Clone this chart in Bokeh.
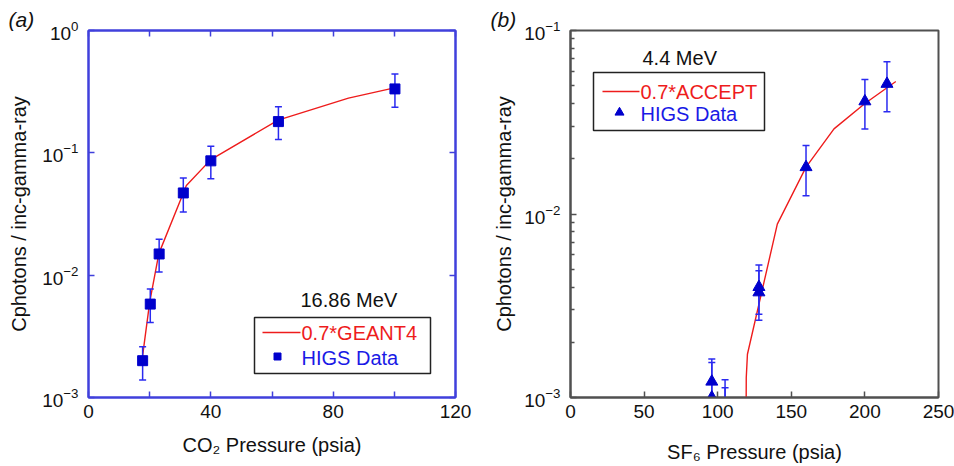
import math
from bokeh.plotting import figure
from bokeh.layouts import row
from bokeh.models import (FixedTicker, LinearAxis, LogAxis, Label, BoxAnnotation, Range1d,
                          Title, LogTickFormatter)
from bokeh.embed import file_html
from bokeh.resources import INLINE

FONT = "Liberation Sans"

# ---------------- data: panel (a) CO2, 16.86 MeV ----------------
a_press = [17.7, 20.2, 23.1, 31.0, 40.0, 62.1, 100.2]
a_val = [0.0020, 0.0058, 0.0149, 0.047, 0.086, 0.180, 0.333]
a_err_hi = [0.0026, 0.0077, 0.0197, 0.0624, 0.113, 0.238, 0.44]
a_err_lo = [0.00139, 0.0041, 0.0106, 0.0329, 0.0613, 0.1285, 0.236]
a_sim_press = [17.7, 20.0, 23.0, 32.0, 40.0, 62.0, 85.0, 100.0]
a_sim_val = [0.0022, 0.0060, 0.0150, 0.054, 0.088, 0.185, 0.28, 0.34]
a_xticks = [0, 40, 80, 120]
a_xminor = [20, 60, 100]
a_yticks = [1e-3, 1e-2, 1e-1, 1.0]

# ---------------- data: panel (b) SF6, 4.4 MeV ----------------
b_press = [96, 96, 105, 105, 128, 128, 160, 200, 215]
b_val = [0.00122, 0.0010, 0.0007, 0.00065, 0.0040, 0.00374, 0.0180, 0.0411, 0.0512]
b_err_hi = [0.00162, 0.00155, 0.00125, 0.00113, 0.00527, 0.00491, 0.0236, 0.0541, 0.0675]
b_err_lo = [0.0007, 0.0006, 0.0004, 0.0004, 0.00284, 0.00264, 0.01259, 0.0291, 0.0361]
b_sim_press = [119.3, 119.4, 120.2, 140.5, 160.0, 179.0, 200.0, 221.0]
b_sim_val = [0.0008, 0.00128, 0.00172, 0.0088, 0.0180, 0.0291, 0.0400, 0.0527]
b_xticks = [0, 50, 100, 150, 200, 250]
b_yticks = [1e-3, 1e-2, 1e-1]
b_yminor = [m * d for d in (1e-3, 1e-2) for m in range(2, 10)]

Y_TITLE = "Cphotons / inc-gamma-ray"
A_XTITLE = "CO\u2082 Pressure (psia)"
B_XTITLE = "SF\u2086 Pressure (psia)"

RED = "#ee1c1c"
BLUE_M = "#0000cc"
BLUE_E = "#2a2af0"
BLUE_T = "#1a1ae6"
TXT = "#111111"

W, H = 477, 466


def add_label(p, x, y, text, size, color=TXT):
    p.add_layout(Label(x=x, y=y, text=text, text_font=FONT, text_font_size=f"{size}px",
                       text_align="left", text_baseline="middle", text_color=color))


def make_fig(xr, yr, border_left, border_right, frame_color):
    p = figure(width=W, height=H, x_range=Range1d(*xr), y_range=Range1d(*yr),
               y_axis_type="log", output_backend="svg", toolbar_location=None,
               min_border_left=border_left, min_border_right=border_right,
               min_border_top=30, min_border_bottom=69)
    p.grid.visible = False
    p.outline_line_color = frame_color
    p.outline_line_width = 2
    p.background_fill_color = "white"
    p.border_fill_color = "white"
    return p


def add_tag(p, tag):
    t = Title(text=tag, align="left", offset=-80, standoff=0, text_font=FONT,
              text_font_size="21px", text_font_style="italic", text_color=TXT)
    p.add_layout(t, "above")


def style_axis(ax, color, tick_in, minor_in, show_labels):
    ax.axis_line_color = color
    ax.axis_line_width = 2
    ax.major_tick_line_color = color
    ax.minor_tick_line_color = color
    ax.major_tick_line_width = 1.5
    ax.minor_tick_line_width = 1.5
    ax.major_tick_in = tick_in
    ax.major_tick_out = 0
    ax.minor_tick_in = minor_in
    ax.minor_tick_out = 0
    ax.major_label_text_font = FONT
    ax.axis_label_text_font = FONT
    ax.axis_label_text_font_style = "normal"
    ax.axis_label_text_font_size = "20px"
    ax.axis_label_text_color = TXT
    if show_labels:
        ax.major_label_text_font_size = "19px"
        ax.major_label_text_color = TXT
    else:
        ax.major_label_text_font_size = "1px"
        ax.major_label_text_color = None
        ax.major_label_standoff = 0


def legend_box(p, left, right, top, bottom):
    p.add_layout(BoxAnnotation(left=left, right=right, top=top, bottom=bottom,
                               fill_alpha=0, line_color="#222222", line_alpha=1.0,
                               line_width=1.5))


# ======================= panel (a) =======================
FA = "#4040dc"
pa = make_fig((0, 120), (1e-3, 1.0), 88, 22, FA)
pa.xaxis.ticker = FixedTicker(ticks=a_xticks, minor_ticks=a_xminor)
pa.yaxis.ticker = FixedTicker(ticks=a_yticks, minor_ticks=[])
pa.yaxis.formatter = LogTickFormatter()
style_axis(pa.xaxis[0], FA, 6, 6, True)
style_axis(pa.yaxis[0], FA, 6, 0, True)
pa.xaxis.major_label_standoff = 7
pa.yaxis.major_label_standoff = 10
pa.xaxis.axis_label = A_XTITLE
pa.xaxis.axis_label_standoff = 13
pa.yaxis.axis_label = Y_TITLE
pa.yaxis.axis_label_standoff = 9
top_a = LinearAxis(ticker=FixedTicker(ticks=a_xticks, minor_ticks=a_xminor))
style_axis(top_a, FA, 6, 6, False)
pa.add_layout(top_a, "above")
right_a = LogAxis(ticker=FixedTicker(ticks=a_yticks, minor_ticks=[]))
style_axis(right_a, FA, 6, 0, False)
pa.add_layout(right_a, "right")
add_tag(pa, "(a)")


# pixel -> data helpers for in-frame annotation layout (frame 88..455, 30..397)
def ax_(px):
    return (px - 88) / 367 * 120


def ay_(py):
    return 10 ** (-(py - 30) / 367 * 3)


pa.line(a_sim_press, a_sim_val, line_color=RED, line_width=1.4)
pa.segment(a_press, a_err_lo, a_press, a_err_hi, line_color=BLUE_E, line_width=1.5)
pa.scatter(a_press, a_err_hi, marker="dash", size=7, line_color=BLUE_E, line_width=1.5)
pa.scatter(a_press, a_err_lo, marker="dash", size=7, line_color=BLUE_E, line_width=1.5)
pa.scatter(a_press, a_val, marker="square", size=10, fill_color=BLUE_M, line_color=BLUE_M)

add_label(pa, ax_(300), ay_(299), "16.86 MeV", 20)
legend_box(pa, ax_(254), ax_(430), ay_(317), ay_(373))
pa.line([ax_(262), ax_(300)], [ay_(332), ay_(332)], line_color=RED, line_width=1.4)
pa.scatter([ax_(277)], [ay_(356)], marker="square", size=7, fill_color=BLUE_M, line_color=BLUE_M)
add_label(pa, ax_(301), ay_(332), "0.7*GEANT4", 20, color=RED)
add_label(pa, ax_(301), ay_(357), "HIGS Data", 20, color=BLUE_T)

# ======================= panel (b) =======================
FB = "#505050"
pb = make_fig((0, 250), (1e-3, 1e-1), 93, 16, FB)
pb.xaxis.ticker = FixedTicker(ticks=b_xticks, minor_ticks=[])
pb.yaxis.ticker = FixedTicker(ticks=b_yticks, minor_ticks=b_yminor)
pb.yaxis.formatter = LogTickFormatter()
style_axis(pb.xaxis[0], FB, 6, 0, True)
style_axis(pb.yaxis[0], FB, 6, 4, True)
pb.xaxis.major_label_standoff = 7
pb.yaxis.major_label_standoff = 10
pb.xaxis.axis_label = B_XTITLE
pb.xaxis.axis_label_standoff = 20
pb.yaxis.axis_label = Y_TITLE
pb.yaxis.axis_label_standoff = 6
add_tag(pb, "(b)")


def bx_(px):
    return (px - 570) / 368 * 250


def by_(py):
    return 10 ** (-1 - (py - 30) / 367 * 2)


pb.line(b_sim_press, b_sim_val, line_color=RED, line_width=1.4)
pb.segment(b_press, b_err_lo, b_press, b_err_hi, line_color=BLUE_E, line_width=1.5)
pb.scatter(b_press, b_err_hi, marker="dash", size=7, line_color=BLUE_E, line_width=1.5)
pb.scatter(b_press, b_err_lo, marker="dash", size=7, line_color=BLUE_E, line_width=1.5)
pb.scatter(b_press, b_val, marker="triangle", size=12, fill_color=BLUE_M, line_color=BLUE_M)

add_label(pb, bx_(642), by_(57), "4.4 MeV", 20)
legend_box(pb, bx_(593), bx_(764), by_(72), by_(130))
pb.line([bx_(602), bx_(639)], [by_(91), by_(91)], line_color=RED, line_width=1.4)
pb.scatter([bx_(619)], [by_(112)], marker="triangle", size=9, fill_color=BLUE_M, line_color=BLUE_M)
add_label(pb, bx_(640), by_(91), "0.7*ACCEPT", 20, color=RED)
add_label(pb, bx_(640), by_(113), "HIGS Data", 20, color=BLUE_T)

layout = row(pa, pb)
open("out.html", "w").write(file_html(layout, INLINE))
